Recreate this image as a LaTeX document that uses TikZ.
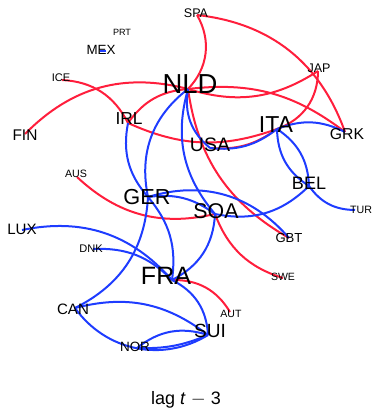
\documentclass[tikz,border=0pt]{standalone}
\usepackage{fontspec}
\setsansfont{Liberation Sans}
\definecolor{ered}{RGB}{255,30,60}
\definecolor{eblue}{RGB}{30,60,255}
\begin{document}
\begin{tikzpicture}[x=0.75pt,y=-0.75pt,
  re/.style={draw=ered,line width=1.5pt},
  be/.style={draw=eblue,line width=1.5pt},
  lab/.style={inner sep=0pt,text=black,font=\sffamily\fontsize{#1}{#1}\selectfont}]
\useasboundingbox (0,0) rectangle (371,409);
% vertices
\coordinate (vSPA) at (197,15);
\coordinate (vMEX) at (103,51);
\coordinate (vICE) at (62,80);
\coordinate (vFIN) at (25,134);
\coordinate (vNLD) at (188,89);
\coordinate (vJAP) at (318,71);
\coordinate (vIRL) at (128,123);
\coordinate (vUSA) at (210,148);
\coordinate (vITA) at (277,129);
\coordinate (vGRK) at (345,132);
\coordinate (vAUS) at (77,177);
\coordinate (vBEL) at (309,186);
\coordinate (vTUR) at (355,210);
\coordinate (vGER) at (148,197);
\coordinate (vSOA) at (215,214);
\coordinate (vGBT) at (289,238);
\coordinate (vLUX) at (22,230);
\coordinate (vDNK) at (93,249);
\coordinate (vFRA) at (172,280);
\coordinate (vSWE) at (283,278);
\coordinate (vAUT) at (230,312);
\coordinate (vCAN) at (75,308);
\coordinate (vSUI) at (208,335);
\coordinate (vNOR) at (137,348);
% red edges
\draw[re] (vSPA) to[bend left=37] (vNLD);
\draw[re] (vSPA) to[bend left=32] (vGRK);
\draw[re] (vNLD) to[bend left=22] (vGRK);
\draw[re] (vNLD) to[bend right=25] (vJAP);
\draw[re] (vJAP) to[bend left=35] (vITA);
\draw[re] (vICE) to[bend left=30] (vIRL);
\draw[re] (vIRL) to[bend right=22] (vITA);
\draw[re] (vUSA) to[bend right=20] (vITA);
\draw[re] (vFIN) to[bend left=30] (vNLD);
\draw[re] (vIRL) to[bend left=25] (vNLD);
\draw[re] (vNLD) to[bend right=26] (vGBT);
\draw[re] (vAUS) to[bend right=28] (vSOA);
\draw[re] (vSOA) to[bend right=26] (vSWE);
\draw[re] (vFRA) to[bend left=30] (vAUT);
% blue edges
\draw[be] (vNLD) to[bend right=30] (vUSA);
\draw[be] (vUSA) to[bend right=22] (vITA);
\draw[be] (vNLD) to[bend right=28] (vSOA);
\draw[be] (vNLD) to[bend right=32] (vGER);
\draw[be] (vIRL) to[bend right=26] (vGER);
\draw[be] (vGER) to[bend left=30] (vCAN);
\draw[be] (vGER) to[bend left=24] (vFRA);
\draw[be] (vSOA) to[bend left=30] (vFRA);
\draw[be] (vGER) to[bend left=22] (vSOA);
\draw[be] (vSOA) to[bend right=28] (vBEL);
\draw[be] (vGER) to[bend left=33] (vGBT);
\draw[be] (vITA) to[bend left=24] (vGRK);
\draw[be] (vITA) to[bend right=28] (vBEL);
\draw[be] (vITA) to[bend left=27] (vBEL);
\draw[be] (vBEL) to[bend right=27] (vTUR);
\draw[be] (vLUX) to[bend left=30] (vFRA);
\draw[be] (vDNK) to[bend left=24] (vFRA);
\draw[be] (vFRA) to[bend left=30] (vSUI);
\draw[be] (vCAN) to[bend left=26] (vSUI);
\draw[be] (vCAN) to[bend right=43] (vSUI);
\draw[be] (vNOR) to[bend left=28] (vSUI);
\draw[be] (vNOR) to[bend right=12] (vSUI);
\draw[be] ([xshift=-2.5pt]vMEX) -- ([xshift=2.5pt]vMEX);
% labels
\node[lab=9.4] (SPA) at (196,13) {SPA};
\node[lab=6.8] (PRT) at (122,32) {PRT};
\node[lab=10] (MEX) at (101,50) {MEX};
\node[lab=8.3] (ICE) at (61,78) {ICE};
\node[lab=20.6] (NLD) at (190,84) {NLD};
\node[lab=9.4] (JAP) at (319,68) {JAP};
\node[lab=13] (IRL) at (129,119) {IRL};
\node[lab=11.6] (FIN) at (25,135) {FIN};
\node[lab=14.6] (USA) at (210,145) {USA};
\node[lab=17.3] (ITA) at (276,125) {ITA};
\node[lab=11.8] (GRK) at (347,134) {GRK};
\node[lab=8] (AUS) at (76,174) {AUS};
\node[lab=13.5] (BEL) at (309,183) {BEL};
\node[lab=8] (TUR) at (361,210) {TUR};
\node[lab=16.3] (GER) at (147,197) {GER};
\node[lab=16] (SOA) at (216,211) {SOA};
\node[lab=9.8] (GBT) at (289,238) {GBT};
\node[lab=11.3] (LUX) at (22,229) {LUX};
\node[lab=8.3] (DNK) at (91,249) {DNK};
\node[lab=18.8] (FRA) at (166,276) {FRA};
\node[lab=7.9] (SWE) at (283,277) {SWE};
\node[lab=7.9] (AUT) at (231,314) {AUT};
\node[lab=11.3] (CAN) at (73,309) {CAN};
\node[lab=14.3] (SUI) at (210,331) {SUI};
\node[lab=10.1] (NOR) at (135,347) {NOR};
\node[inner sep=0pt,font=\sffamily\fontsize{13.5}{15}\selectfont] (cap) at (186,400) {lag \textit{t} $-$ 3};
\end{tikzpicture}
\end{document}
